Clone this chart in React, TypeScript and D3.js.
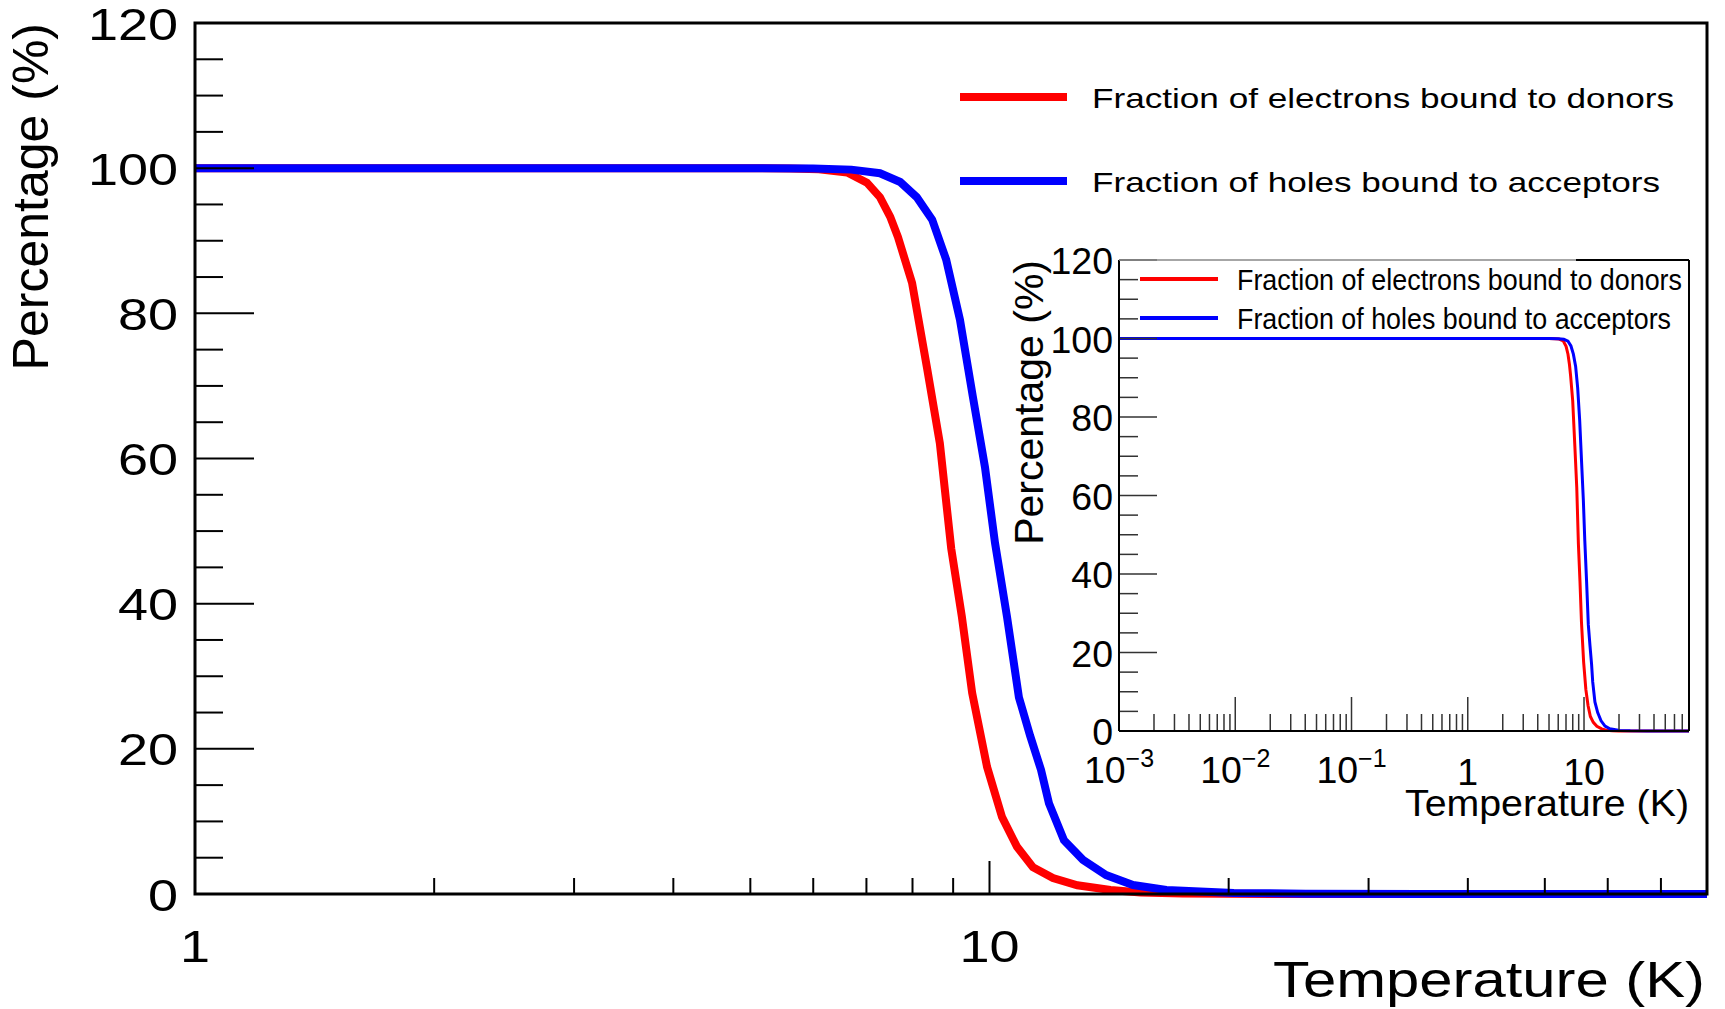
import React from 'react';
import * as d3 from 'd3';

// temperature (K) and bound fraction (%)
const tempRed = [0.001, 0.01, 0.1, 1, 2, 3, 4, 5, 5.6, 6.1, 6.62, 7.01, 7.28, 7.5, 7.67, 7.99, 8.34, 8.66, 8.95, 9.23, 9.51, 9.93, 10.37, 10.83, 11.34, 12.02, 12.9, 14.2, 15.5, 17.5, 20, 30, 50, 80];
const fracRed = [100, 100, 100, 100, 100, 100, 100, 100, 99.95, 99.85, 99.4, 98.0, 96.0, 93.3, 90.5, 84.2, 72.6, 62.1, 47.6, 38.2, 27.7, 17.5, 10.6, 6.5, 3.7, 2.2, 1.2, 0.55, 0.2, 0.06, 0.02, 0, 0, 0];
const tempBlue = [0.001, 0.01, 0.1, 1, 2, 3, 4, 5, 6, 6.7, 7.28, 7.72, 8.1, 8.47, 8.82, 9.18, 9.53, 9.87, 10.16, 10.52, 10.89, 11.25, 11.61, 11.88, 12.41, 13.11, 14.02, 15.16, 16.7, 20.3, 25, 35, 50, 80];
const fracBlue = [100, 100, 100, 100, 100, 100, 100, 100, 99.95, 99.8, 99.3, 98.1, 96.0, 92.9, 87.4, 79.1, 68.5, 58.8, 48.4, 38.2, 27.1, 21.8, 17.1, 12.5, 7.4, 4.7, 2.6, 1.24, 0.55, 0.14, 0.05, 0.01, 0, 0];

const seriesNames = ['Fraction of electrons bound to donors', 'Fraction of holes bound to acceptors'];
const seriesColors = ['#ff0000', '#0000ff'];

const yTicks = [0, 20, 40, 60, 80, 100, 120];
const mainXTicks = [1, 10];
const mainXLabels = ['1', '10'];
const insetXTicks = [0.001, 0.01, 0.1, 1, 10];
const insetXLabels = [['10', '\u22123'], ['10', '\u22122'], ['10', '\u22121'], ['1', ''], ['10', '']];

const FONT = '"Liberation Sans", Arial, Helvetica, sans-serif';

type Pt = [number, number];
const zip = (t: number[], v: number[]): Pt[] => t.map((d, i) => [d, v[i]]);
const series = [zip(tempRed, fracRed), zip(tempBlue, fracBlue)];

// minor tick positions on a log axis
const logMinors = (lo: number, hi: number) => {
	const out: number[] = [];
	for (let e = Math.floor(Math.log10(lo)); Math.pow(10, e) < hi; e++) {
		for (let k = 2; k <= 9; k++) {
			const v = k * Math.pow(10, e);
			if (v > lo && v < hi) out.push(v);
		}
	}
	return out;
};
const yMinors = d3.range(0, 121, 5).filter((d) => d % 20 !== 0);

// main frame
const M = { left: 195, right: 1707, top: 23, bottom: 894 };
const x = d3.scaleLog().domain([1, 80]).range([M.left, M.right]);
const y = d3.scaleLinear().domain([0, 120]).range([M.bottom, M.top]);

// inset frame
const I = { left: 1119, right: 1689, top: 260, bottom: 731 };
const xi = d3.scaleLog().domain([0.001, 80]).range([I.left, I.right]);
const yi = d3.scaleLinear().domain([0, 120]).range([I.bottom, I.top]);

const SX = 1.2; // main pad text is drawn wide

const Wide: React.FC<{ x: number; y: number; size: number; anchor?: string; children: React.ReactNode }> = ({ x, y, size, anchor = 'start', children }) => (
	<text transform={`translate(${x},${y}) scale(${SX},1)`} fontSize={size} textAnchor={anchor} fontFamily={FONT} fill="#000">
		{children}
	</text>
);

export default function App() {
	const lineMain = d3.line<Pt>().x((d) => x(d[0])).y((d) => y(d[1]));
	const lineInset = d3.line<Pt>().x((d) => xi(d[0])).y((d) => yi(d[1]));

	return (
		<svg width={1725} height={1009} style={{ position: 'absolute', left: 0, top: 0, background: '#fff' }}>
			<defs>
				<clipPath id="clipMain">
					<rect x={M.left} y={0} width={M.right - M.left} height={1009} />
				</clipPath>
				<clipPath id="clipInset">
					<rect x={I.left} y={I.top - 20} width={I.right - I.left} height={I.bottom - I.top + 40} />
				</clipPath>
			</defs>
			<rect width={1725} height={1009} fill="#fff" />

			{/* main curves */}
			<g clipPath="url(#clipMain)" fill="none">
				{series.map((s, i) => (
					<path key={i} d={lineMain(s)!} stroke={seriesColors[i]} strokeWidth={8} />
				))}
			</g>

			{/* main axes */}
			<g stroke="#000" strokeWidth={2}>
				{yTicks.map((t) => (
					<line key={t} x1={M.left} x2={M.left + 59} y1={y(t)} y2={y(t)} />
				))}
				{yMinors.map((t) => (
					<line key={t} x1={M.left} x2={M.left + 28} y1={y(t)} y2={y(t)} />
				))}
				{mainXTicks.map((t) => (
					<line key={t} x1={x(t)} x2={x(t)} y1={M.bottom} y2={M.bottom - 33} />
				))}
				{logMinors(1, 80).map((t) => (
					<line key={t} x1={x(t)} x2={x(t)} y1={M.bottom} y2={M.bottom - 16} />
				))}
			</g>
			<rect x={M.left} y={M.top} width={M.right - M.left} height={M.bottom - M.top} fill="none" stroke="#000" strokeWidth={3} />

			{yTicks.map((t) => (
				<Wide key={t} x={178} y={y(t) + 16.5} size={45} anchor="end">
					{t}
				</Wide>
			))}
			{mainXTicks.map((t, i) => (
				<Wide key={t} x={x(t)} y={962} size={45} anchor="middle">
					{mainXLabels[i]}
				</Wide>
			))}
			<text x={1705} y={997} fontSize={50} textAnchor="end" fontFamily={FONT} textLength={432} lengthAdjust="spacingAndGlyphs">
				Temperature (K)
			</text>
			<text transform={`translate(48,${M.top}) rotate(-90)`} fontSize={50} textAnchor="end" fontFamily={FONT}>
				Percentage (%)
			</text>

			{/* main legend */}
			{seriesNames.map((n, i) => {
				const ly = [97, 181][i];
				return (
					<g key={n}>
						<line x1={960} x2={1067} y1={ly} y2={ly} stroke={seriesColors[i]} strokeWidth={8} />
						<text x={1092} y={ly + 11} fontSize={28} fontFamily={FONT} textLength={[582, 568][i]} lengthAdjust="spacingAndGlyphs">
							{n}
						</text>
					</g>
				);
			})}

			{/* inset curves */}
			<g clipPath="url(#clipInset)" fill="none">
				{series.map((s, i) => (
					<path key={i} d={lineInset(s)!} stroke={seriesColors[i]} strokeWidth={3} />
				))}
			</g>

			{/* inset axes */}
			<g stroke="#333" strokeWidth={1.5}>
				{yTicks.map((t) => (
					<line key={t} x1={I.left} x2={I.left + 38} y1={yi(t)} y2={yi(t)} />
				))}
				{yMinors.map((t) => (
					<line key={t} x1={I.left} x2={I.left + 19} y1={yi(t)} y2={yi(t)} />
				))}
				{insetXTicks.map((t) => (
					<line key={t} x1={xi(t)} x2={xi(t)} y1={I.bottom} y2={I.bottom - 34} />
				))}
				{logMinors(0.001, 80).map((t) => (
					<line key={t} x1={xi(t)} x2={xi(t)} y1={I.bottom} y2={I.bottom - 17} />
				))}
			</g>
			<g stroke="#000" strokeWidth={2} fill="none">
				<line x1={I.left} x2={I.left} y1={I.top} y2={I.bottom} />
				<line x1={I.left} x2={I.right} y1={I.bottom} y2={I.bottom} />
				<line x1={I.right} x2={I.right} y1={I.top} y2={I.bottom} />
				<line x1={1576} x2={I.right} y1={I.top} y2={I.top} />
				<line x1={I.left} x2={1576} y1={I.top} y2={I.top} stroke="#888" strokeWidth={1.5} />
			</g>

			{yTicks.map((t) => (
				<text key={t} x={1113} y={yi(t) + 14} fontSize={37.5} textAnchor="end" fontFamily={FONT}>
					{t}
				</text>
			))}
			{insetXTicks.map((t, i) => (
				<text key={t} x={xi(t)} y={insetXLabels[i][1] ? 783 : 785} fontSize={37.5} textAnchor="middle" fontFamily={FONT}>
					<tspan>{insetXLabels[i][0]}</tspan>
					{insetXLabels[i][1] && (
						<tspan dy={-16} fontSize={25}>
							{insetXLabels[i][1]}
						</tspan>
					)}
				</text>
			))}
			<text x={I.right} y={816} fontSize={37} textAnchor="end" fontFamily={FONT} textLength={284} lengthAdjust="spacingAndGlyphs">
				Temperature (K)
			</text>
			<text transform={`translate(1043,${I.top}) rotate(-90)`} fontSize={41} textAnchor="end" fontFamily={FONT}>
				Percentage (%)
			</text>

			{/* inset legend */}
			{seriesNames.map((n, i) => {
				const ly = [279, 318][i];
				return (
					<g key={n}>
						<line x1={1140} x2={1218} y1={ly} y2={ly} stroke={seriesColors[i]} strokeWidth={4} />
						<text x={1237} y={ly + 10.5} fontSize={29} fontFamily={FONT} textLength={[445, 434][i]} lengthAdjust="spacingAndGlyphs">
							{n}
						</text>
					</g>
				);
			})}
		</svg>
	);
}
